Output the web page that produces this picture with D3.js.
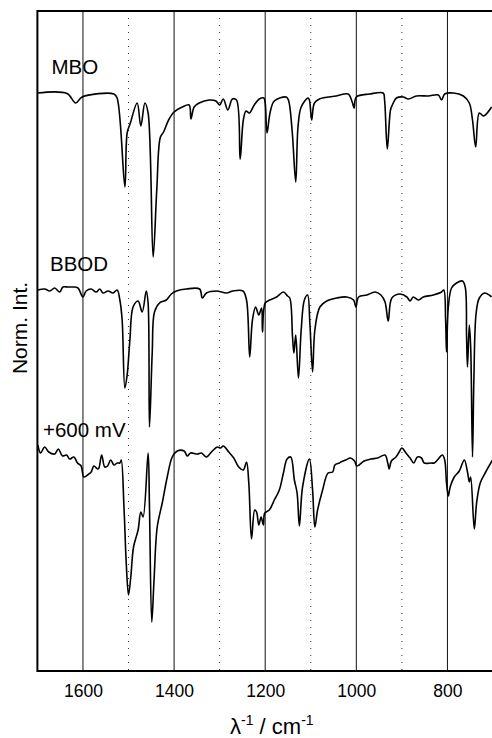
<!DOCTYPE html>
<html>
<head>
<meta charset="utf-8">
<script src="https://cdn.jsdelivr.net/npm/d3@7"></script>
<style>
  body { margin: 0; background: #fff; }
  svg text { font-family: "Liberation Sans", Arial, sans-serif; fill: #000; }
</style>
</head>
<body>
<div id="chart"></div>
<script>
// wavenumber (cm-1), intensity (arb. units, traces offset)
var mbo = [[1700,57.8],[1635,57.75],[1616,56.8],[1602,57.4],[1532,57.7],[1525,57.3],[1508,48.4],[1503,53.8],
  [1496,54.8],[1481,56.8],[1473,54.5],[1464,56.8],[1457,55.8],[1446,41.4],[1438,48.1],[1430,53.4],[1423,53.9],
  [1412,55.1],[1400,55.9],[1382,56.4],[1367,56.6],[1363,55.2],[1356,56.4],[1345,56.8],[1323,57.1],[1308,57.0],
  [1300,56.6],[1292,57.2],[1282,56.1],[1272,57.2],[1263,57.1],[1255,51.2],[1248,55.1],[1242,56.0],[1235,55.8],
  [1224,56.6],[1213,57.2],[1203,57.3],[1200,56.8],[1196,53.8],[1189,55.9],[1180,57.0],[1154,57.4],[1149,57.1],
  [1141,54.1],[1133,48.9],[1128,54.4],[1121,56.4],[1106,57.3],[1103,57.1],[1098,55.1],[1092,56.8],[1081,57.2],
  [1044,57.5],[1018,57.7],[1009,56.9],[1005,56.3],[1000,57.4],[971,57.7],[941,57.8],[938,57.1],[932,52.2],
  [925,56.1],[921,56.6],[912,57.3],[897,57.4],[886,57.2],[868,57.5],[842,57.5],[820,57.6],[813,57.1],[806,57.7],
  [787,57.8],[765,57.5],[752,56.8],[745,55.1],[738,52.4],[730,55.8],[721,55.5],[703,56.4]];

var bbod = [[1699,38.1],[1684,38.2],[1673,38.0],[1662,38.3],[1651,37.9],[1644,38.4],[1633,38.4],[1622,38.4],
  [1611,38.3],[1600,37.4],[1593,38.0],[1582,38.2],[1571,37.9],[1563,38.2],[1556,37.8],[1545,38.0],[1534,37.8],
  [1525,38.1],[1519,37.1],[1514,35.1],[1508,28.3],[1503,29.6],[1497,33.1],[1490,36.4],[1479,37.0],[1470,35.9],
  [1461,38.0],[1457,36.8],[1454,24.4],[1448,31.8],[1443,35.9],[1432,36.8],[1417,37.1],[1406,37.7],[1395,38.0],
  [1373,38.2],[1344,38.2],[1338,37.3],[1329,37.8],[1307,38.0],[1285,37.8],[1271,38.0],[1249,38.0],[1241,37.1],
  [1234,31.4],[1228,35.1],[1221,36.4],[1214,35.6],[1208,36.3],[1206,33.9],[1200,36.8],[1190,37.1],[1175,37.4],
  [1160,37.9],[1151,37.5],[1146,37.3],[1140,33.4],[1137,31.8],[1133,33.6],[1127,29.3],[1121,34.1],[1114,37.1],
  [1107,37.6],[1102,34.8],[1096,29.9],[1091,34.1],[1080,36.4],[1065,37.0],[1043,37.3],[1021,37.4],[1006,37.1],
  [1001,36.4],[995,37.4],[977,37.6],[959,37.9],[946,37.6],[937,36.9],[930,35.0],[922,37.3],[904,37.7],[889,37.4],
  [882,37.0],[875,37.4],[864,37.1],[853,37.4],[831,37.6],[813,37.9],[808,38.1],[804,35.1],[802,31.9],[798,36.4],
  [791,38.3],[780,38.8],[767,39.0],[761,38.4],[758,33.4],[756,30.4],[752,34.6],[749,32.4],[745,21.4],[742,29.1],
  [737,35.8],[730,37.3],[718,37.8],[703,37.4]];

var mv600 = [[1699,22.6],[1693,21.8],[1684,22.4],[1675,21.9],[1662,21.7],[1654,22.2],[1645,21.5],[1636,21.6],
  [1629,21.2],[1620,21.4],[1612,20.8],[1604,20.5],[1598,19.4],[1587,19.7],[1582,19.9],[1576,20.5],[1568,20.2],
  [1565,20.3],[1559,21.6],[1552,20.4],[1546,20.5],[1539,21.1],[1532,20.6],[1525,20.8],[1519,20.8],[1516,21.1],
  [1510,16.4],[1505,10.8],[1500,7.6],[1495,9.4],[1489,12.4],[1479,14.1],[1473,15.9],[1468,15.4],[1457,21.8],
  [1454,16.4],[1449,4.9],[1444,9.1],[1437,14.4],[1426,16.8],[1415,19.4],[1404,21.4],[1393,22.0],[1378,22.0],
  [1371,21.5],[1364,21.8],[1349,21.7],[1340,21.8],[1329,21.4],[1316,22.0],[1305,22.4],[1298,22.3],[1292,22.5],
  [1280,21.9],[1269,21.3],[1258,20.4],[1248,20.1],[1241,20.9],[1236,18.8],[1230,13.2],[1223,16.1],[1219,15.9],
  [1214,14.6],[1209,15.4],[1204,14.6],[1201,15.8],[1191,16.1],[1180,17.1],[1169,18.1],[1160,19.8],[1152,21.2],
  [1144,21.4],[1136,19.1],[1130,17.8],[1125,14.5],[1118,18.4],[1103,21.2],[1096,18.1],[1091,14.4],[1085,16.1],
  [1074,18.1],[1062,19.8],[1052,19.9],[1047,20.6],[1037,20.8],[1034,20.9],[1023,21.1],[1013,21.3],[1004,21.0],
  [999,20.5],[994,20.6],[983,21.0],[968,21.2],[953,21.3],[937,21.6],[931,20.8],[928,20.2],[923,21.0],[913,21.4],
  [906,21.9],[900,22.3],[891,21.8],[882,21.3],[874,20.8],[866,21.4],[857,21.3],[851,20.8],[836,20.8],[829,20.8],
  [822,21.1],[811,21.6],[806,21.1],[802,18.8],[798,17.5],[794,18.4],[785,19.4],[774,20.0],[763,21.1],[756,19.9],
  [752,18.9],[749,19.4],[741,14.2],[736,16.8],[728,18.8],[716,19.9],[701,21.1]];

var seriesNames = ["MBO", "BBOD", "+600 mV"];
var majorTicks = [1600, 1400, 1200, 1000, 800];
var minorTicks = [1500, 1300, 1100, 900];

var W = 492, H = 738;
var margin = { left: 37.4, top: 11, right: 0, bottom: 67 };
var plotW = 455.6, plotH = H - margin.top - margin.bottom;

var svg = d3.select("#chart").append("svg")
    .attr("width", W)
    .attr("height", H);

var x = d3.scaleLinear().domain([1700, 700]).range([margin.left, margin.left + plotW]);
var y = d3.scaleLinear().domain([0, 66]).range([margin.top + plotH, margin.top]);

// grid lines
svg.selectAll("line.major")
    .data(majorTicks)
  .enter().append("line")
    .attr("class", "major")
    .attr("x1", function(d) { return x(d); })
    .attr("x2", function(d) { return x(d); })
    .attr("y1", margin.top)
    .attr("y2", margin.top + plotH)
    .attr("stroke", "#111")
    .attr("stroke-width", 1);

svg.selectAll("line.minor")
    .data(minorTicks)
  .enter().append("line")
    .attr("class", "minor")
    .attr("x1", function(d) { return x(d); })
    .attr("x2", function(d) { return x(d); })
    .attr("y1", margin.top)
    .attr("y2", margin.top + plotH)
    .attr("stroke", "#333")
    .attr("stroke-width", 1)
    .attr("stroke-dasharray", "1,6");

// frame
svg.append("rect")
    .attr("x", margin.left)
    .attr("y", margin.top)
    .attr("width", plotW + 4)
    .attr("height", plotH)
    .attr("fill", "none")
    .attr("stroke", "#000")
    .attr("stroke-width", 2);

// x axis labels
var xAxis = d3.axisBottom(x)
    .tickValues(majorTicks)
    .tickFormat(d3.format("d"))
    .tickSize(0)
    .tickPadding(14);
var gx = svg.append("g")
    .attr("transform", "translate(0," + (margin.top + plotH) + ")")
    .call(xAxis);
gx.select(".domain").remove();
gx.selectAll("text")
    .attr("fill", "#000")
    .style("font-family", "'Liberation Sans', Arial, sans-serif")
    .style("font-size", "17.5px");

// spectra
var line = d3.line()
    .x(function(d) { return x(d[0]); })
    .y(function(d) { return y(d[1]); })
    .curve(d3.curveCatmullRom.alpha(0.5));

[mbo, bbod, mv600].forEach(function(s) {
  svg.append("path")
      .datum(s)
      .attr("d", line)
      .attr("fill", "none")
      .attr("stroke", "#000")
      .attr("stroke-width", 1.6)
      .attr("stroke-linejoin", "round");
});

// trace labels
var labelPos = [[51.5, 74], [50, 270.5], [43, 437]];
seriesNames.forEach(function(n, i) {
  svg.append("text")
      .attr("x", labelPos[i][0])
      .attr("y", labelPos[i][1])
      .style("font-size", "20.5px")
      .text(n);
});

// axis titles
svg.append("text")
    .attr("transform", "translate(27,328) rotate(-90)")
    .attr("text-anchor", "middle")
    .style("font-size", "21px")
    .text("Norm. Int.");

var xt = svg.append("text")
    .attr("x", 230)
    .attr("y", 734)
    .style("font-size", "22px");
xt.append("tspan").text("\u03bb");
xt.append("tspan").attr("dy", -9).style("font-size", "14px").text("-1");
xt.append("tspan").attr("dy", 9).text(" / cm");
xt.append("tspan").attr("dy", -9).style("font-size", "14px").text("-1");
</script>
</body>
</html>
